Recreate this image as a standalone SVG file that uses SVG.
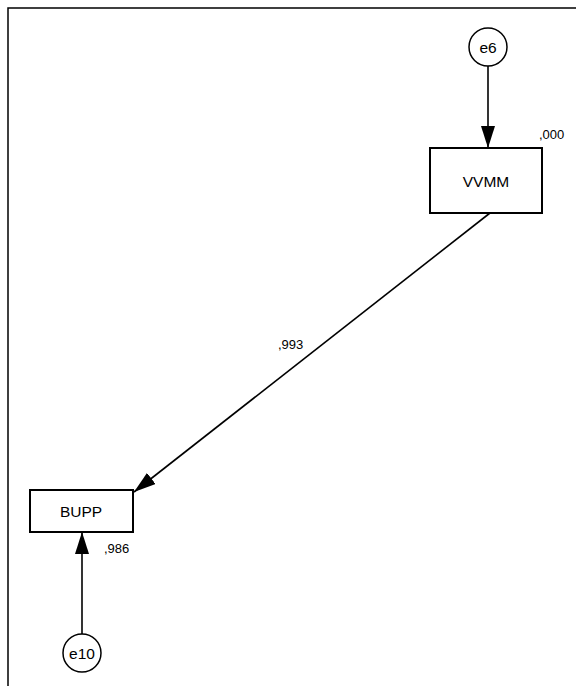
<svg xmlns="http://www.w3.org/2000/svg" width="576" height="686" viewBox="0 0 576 686">
<style>
.box{fill:#fff;stroke:#000;stroke-width:2}
.circ{fill:#fff;stroke:#000;stroke-width:1.5}
.lbl{font-family:"Liberation Sans",Arial,sans-serif;font-size:15.5px;fill:#000;text-anchor:middle;dominant-baseline:central}
.num{font-family:"Liberation Sans",Arial,sans-serif;font-size:13px;fill:#000}
.edge{stroke:#000;stroke-width:1.6;fill:none;marker-end:url(#ah)}
</style>
<defs>
<marker id="ah" viewBox="0 0 22 14" refX="22" refY="7" markerWidth="22" markerHeight="14" markerUnits="userSpaceOnUse" orient="auto">
<path d="M0,0 L22,7 L0,14 Z" fill="#000"/>
</marker>
</defs>
<rect width="576" height="686" fill="#fff"/>
<path d="M8,686 V8 H576" fill="none" stroke="#000" stroke-width="1.5"/>
<g id="connectors">
<line class="edge" x1="488" y1="66" x2="488" y2="148"/>
<line class="edge" x1="490" y1="213" x2="134" y2="492"/>
<line class="edge" x1="82" y1="634" x2="82" y2="532"/>
</g>
<g id="e6">
<circle class="circ" cx="488" cy="47" r="19"/>
<text class="lbl" x="488" y="47">e6</text>
</g>
<g id="VVMM">
<rect class="box" x="430" y="148" width="112" height="65"/>
<text class="lbl" x="486" y="181">VVMM</text>
<text class="num" x="539" y="139">,000</text>
</g>
<g id="BUPP">
<rect class="box" x="30" y="490" width="103" height="42"/>
<text class="lbl" x="81" y="511">BUPP</text>
<text class="num" x="104" y="553">,986</text>
</g>
<g id="e10">
<circle class="circ" cx="82" cy="653" r="19"/>
<text class="lbl" x="82" y="653">e10</text>
</g>
<text class="num" x="278" y="349">,993</text>
</svg>
